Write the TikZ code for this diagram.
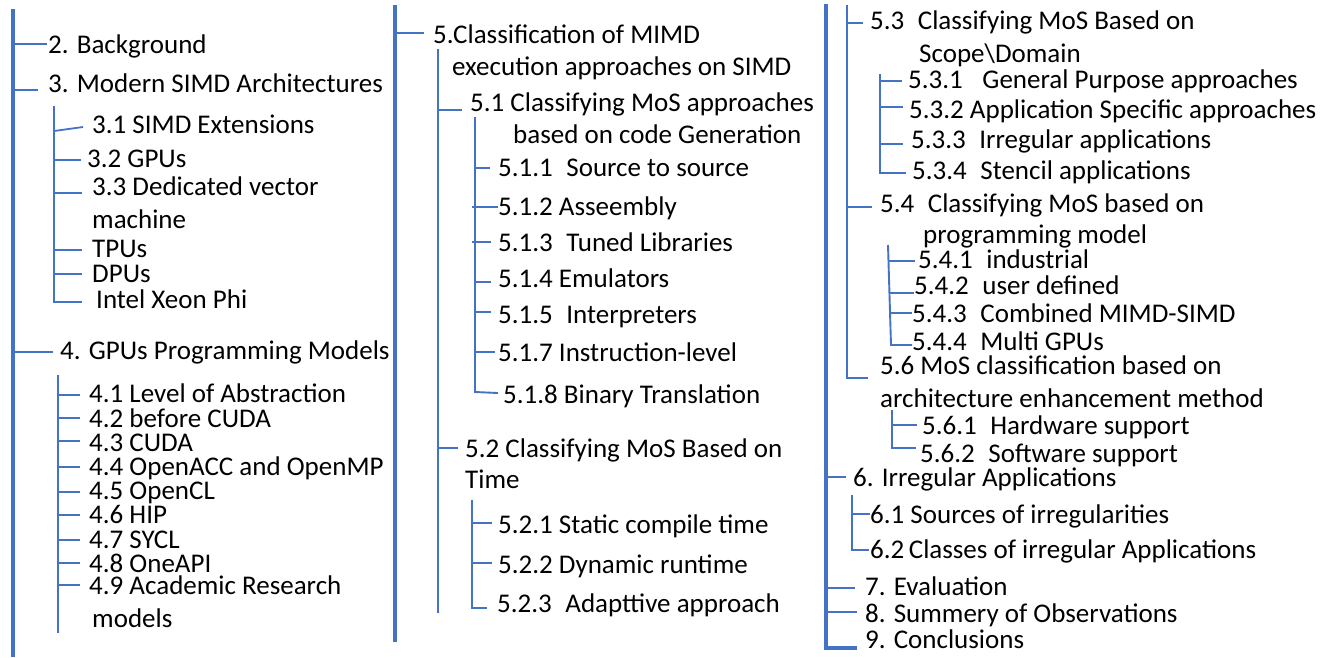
\documentclass[tikz,border=0pt]{standalone}
\usepackage{fontspec}
\setmainfont{Carlito}
\definecolor{lineblue}{HTML}{4472C4}
\begin{document}
\begin{tikzpicture}[x=1pt,y=-1pt,
  lbl/.style={anchor=base west,inner sep=0pt,font=\fontsize{27}{32}\selectfont,text=black},
  conn/.style={draw=lineblue,line width=1.8pt},
  trunk/.style={draw=lineblue,line width=3.2pt},
  subtrunk/.style={draw=lineblue,line width=2.6pt},
  thintrunk/.style={draw=lineblue,line width=1.9pt}]
\useasboundingbox (0,0) rectangle (1336,657);

% ---------- Column 1 ----------
\coordinate (A0) at (13,9);
\coordinate (A1) at (13,657);
\draw[trunk] (A0) -- (A1);
\node[lbl] (bg) at (48,53) {2. Background};
\draw[conn] (A0 |- 0,44) -- (47,44);
\node[lbl] (msa) at (48,92) {3. Modern SIMD Architectures};
\draw[conn] (A0 |- 0,90) -- (38,90);

\coordinate (B0) at (54,106);
\coordinate (B1) at (54,302);
\draw[thintrunk] (B0) -- (B1) -- (82,302);
\node[lbl] (s31) at (92,133) {3.1 SIMD Extensions};
\draw[conn] (B0 |- 0,131) -- (83,127);
\node[lbl] (s32) at (87,167) {3.2 GPUs};
\draw[conn] (B0 |- 0,160) -- (81,160);
\node[lbl] (s33) at (92,195) {3.3 Dedicated vector};
\draw[conn] (B0 |- 0,193) -- (82,193);
\node[lbl] (s33b) at (92,228) {machine};
\node[lbl] (tpu) at (92,257) {TPUs};
\draw[conn] (B0 |- 0,250) -- (82,250);
\node[lbl] (dpu) at (92,282) {DPUs};
\draw[conn] (B0 |- 0,274) -- (82,274);
\node[lbl] (xeon) at (96,308) {Intel Xeon Phi};

\node[lbl] (gpm) at (60,359) {4. GPUs Programming Models};
\draw[conn] (A0 |- 0,352) -- (53,352);
\coordinate (C0) at (58,375);
\coordinate (C1) at (58,633);
\draw[subtrunk] (C0) -- (C1);
\node[lbl] (s41) at (89,402) {4.1 Level of Abstraction};
\draw[conn] (C0 |- 0,395) -- (80,395);
\node[lbl] (s42) at (89,427) {4.2 before CUDA};
\draw[conn] (C0 |- 0,418) -- (80,418);
\node[lbl] (s43) at (89,451) {4.3 CUDA};
\draw[conn] (C0 |- 0,441) -- (80,441);
\node[lbl] (s44) at (89,475) {4.4 OpenACC and OpenMP};
\draw[conn] (C0 |- 0,467) -- (80,467);
\node[lbl] (s45) at (89,499) {4.5 OpenCL};
\draw[conn] (C0 |- 0,492) -- (80,492);
\node[lbl] (s46) at (89,523) {4.6 HIP};
\draw[conn] (C0 |- 0,515) -- (80,515);
\node[lbl] (s47) at (89,548) {4.7 SYCL};
\draw[conn] (C0 |- 0,540) -- (80,540);
\node[lbl] (s48) at (89,572) {4.8 OneAPI};
\draw[conn] (C0 |- 0,563) -- (80,563);
\node[lbl] (s49) at (89,594) {4.9 Academic Research};
\draw[conn] (C0 |- 0,585) -- (80,585);
\node[lbl] (s49b) at (92,627) {models};

% ---------- Column 2 ----------
\coordinate (D0) at (395,5);
\coordinate (D1) at (395,642);
\draw[trunk] (D0) -- (D1);
\node[lbl] (c5) at (433,43) {5.Classification of MIMD};
\draw[conn] (D0 |- 0,33) -- (424,33);
\node[lbl] (c5b) at (452,75) {execution approaches on SIMD};
\coordinate (E0) at (438,49);
\coordinate (E1) at (438,613);
\draw[subtrunk] (E0) -- (E1);

\node[lbl] (s51) at (470,111) {5.1 Classifying MoS approaches};
\draw[conn] (E0 |- 0,110) -- (462,110);
\node[lbl] (s51b) at (513,143) {based on code Generation};
\coordinate (F0) at (475,117);
\coordinate (F1) at (475,392);
\draw[thintrunk] (F0) -- (F1) -- (498,393);
\node[lbl] (s511) at (498,176) {5.1.1\enspace Source to source};
\draw[conn] (F0 |- 0,168) -- (490,168);
\node[lbl] (s512) at (498,215) {5.1.2 Asseembly};
\draw[conn] (472,207) -- (498,207);
\node[lbl] (s513) at (498,251) {5.1.3\enspace Tuned Libraries};
\draw[conn] (472,242) -- (491,242);
\node[lbl] (s514) at (498,287) {5.1.4 Emulators};
\draw[conn] (F0 |- 0,282) -- (491,282);
\node[lbl] (s515) at (498,323) {5.1.5\enspace Interpreters};
\draw[conn] (F0 |- 0,312) -- (491,312);
\node[lbl] (s517) at (498,361) {5.1.7 Instruction-level};
\draw[conn] (F0 |- 0,352) -- (495,352);
\node[lbl] (s518) at (503,403) {5.1.8 Binary Translation};

\node[lbl] (s52) at (465,457) {5.2 Classifying MoS Based on};
\draw[conn] (E0 |- 0,448) -- (458,448);
\node[lbl] (s52b) at (465,488) {Time};
\coordinate (G0) at (472,500);
\coordinate (G1) at (472,608);
\draw[thintrunk] (G0) -- (G1) -- (487,608);
\node[lbl] (s521) at (498,533) {5.2.1 Static compile time};
\draw[conn] (G0 |- 0,523) -- (492,523);
\node[lbl] (s522) at (498,573) {5.2.2 Dynamic runtime};
\draw[conn] (G0 |- 0,563) -- (492,563);
\node[lbl] (s523) at (497,612) {5.2.3\enspace Adapttive approach};

% ---------- Column 3 ----------
\coordinate (H0) at (826,4);
\coordinate (H1) at (826,648);
\draw[trunk] (H0) -- (H1) -- (857,648);
\coordinate (I0) at (847,5);
\coordinate (I1) at (847,378);
\draw[subtrunk] (I0) -- (I1) -- (868,378);

\node[lbl] (s53) at (870,29) {5.3\enspace Classifying MoS Based on};
\draw[conn] (I0 |- 0,23) -- (863,23);
\node[lbl] (s53b) at (919,62) {Scope\textbackslash Domain};
\coordinate (J0) at (880,74);
\coordinate (J1) at (880,173);
\draw[thintrunk] (J0) -- (J1) -- (906,173);
\node[lbl] (s531) at (908,88) {5.3.1\enspace\ General Purpose approaches};
\draw[conn] (J0 |- 0,81) -- (902,81);
\node[lbl] (s532) at (909,118) {5.3.2 Application Specific approaches};
\draw[conn] (J0 |- 0,107) -- (903,107);
\node[lbl] (s533) at (911,148) {5.3.3\enspace Irregular applications};
\draw[conn] (J0 |- 0,144) -- (903,144);
\node[lbl] (s534) at (912,179) {5.3.4\enspace Stencil applications};

\node[lbl] (s54) at (880,212) {5.4\enspace Classifying MoS based on};
\draw[conn] (I0 |- 0,207) -- (872,207);
\node[lbl] (s54b) at (923,243) {programming model};
\coordinate (K0) at (888,245);
\coordinate (K1) at (891,345);
\draw[thintrunk] (K0) -- (K1) -- (912,345);
\node[lbl] (s541) at (918,268) {5.4.1\enspace industrial};
\draw[conn] (888,261) -- (915,261);
\node[lbl] (s542) at (914,294) {5.4.2\enspace user defined};
\draw[conn] (889,293) -- (914,293);
\node[lbl] (s543) at (912,322) {5.4.3\enspace Combined MIMD-SIMD};
\draw[conn] (889,313) -- (912,313);
\node[lbl] (s544) at (912,350) {5.4.4\enspace Multi GPUs};

\node[lbl] (s56) at (880,374) {5.6 MoS classification based on};
\node[lbl] (s56b) at (880,407) {architecture enhancement method};
\coordinate (L0) at (892,410);
\coordinate (L1) at (892,448);
\draw[thintrunk] (L0) -- (L1) -- (916,448);
\node[lbl] (s561) at (922,434) {5.6.1\enspace Hardware support};
\draw[conn] (L0 |- 0,425) -- (917,425);
\node[lbl] (s562) at (920,462) {5.6.2\enspace Software support};

\node[lbl] (ir) at (853,486) {6. Irregular Applications};
\draw[conn] (H0 |- 0,477) -- (846,477);
\coordinate (M0) at (852,495);
\coordinate (M1) at (852,550);
\draw[thintrunk] (M0) -- (M1) -- (869,550);
\node[lbl] (s61) at (870,523) {6.1 Sources of irregularities};
\draw[conn] (M0 |- 0,514) -- (870,514);
\node[lbl] (s62) at (870,558) {6.2\,Classes of irregular Applications};

\node[lbl] (ev) at (865,595) {7. Evaluation};
\draw[conn] (H0 |- 0,588) -- (855,588);
\node[lbl] (so) at (865,622) {8. Summery of Observations};
\draw[conn] (H0 |- 0,612) -- (857,612);
\node[lbl] (cc) at (865,648) {9. Conclusions};
\end{tikzpicture}
\end{document}
